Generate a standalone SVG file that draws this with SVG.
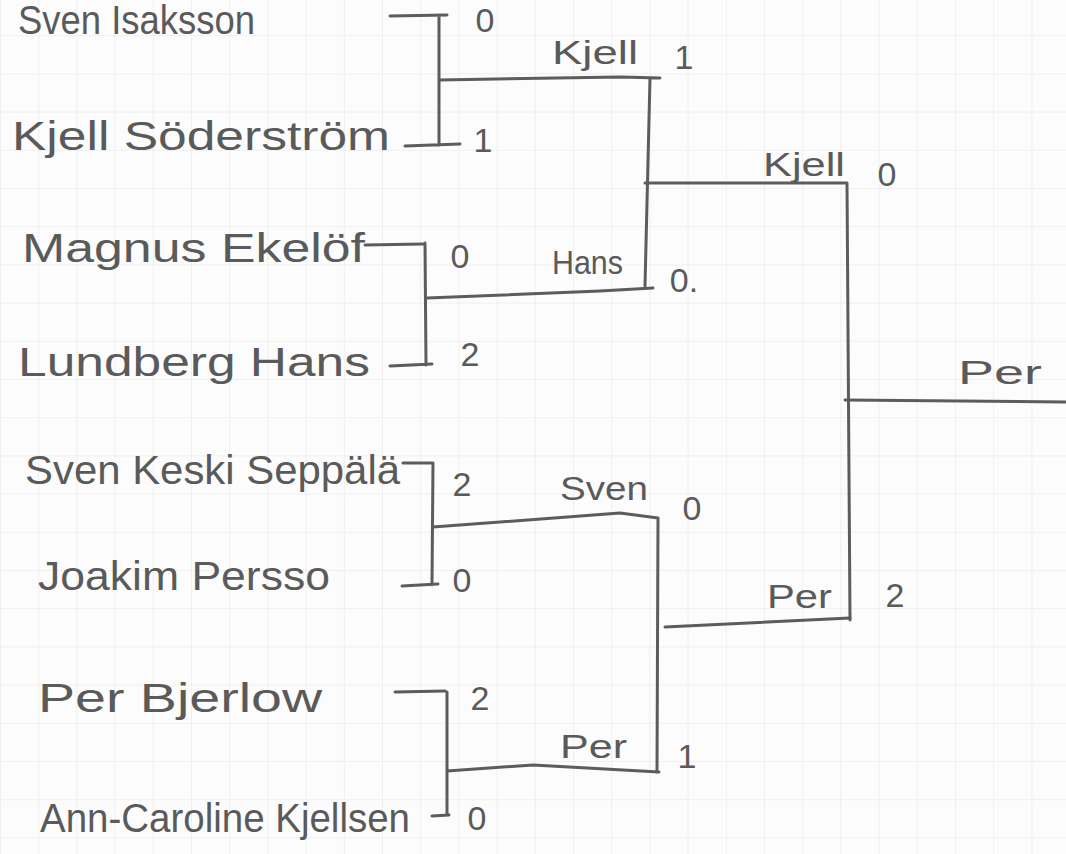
<svg xmlns="http://www.w3.org/2000/svg" width="1066" height="854" viewBox="0 0 1066 854">
<style>
.name{font-family:"Liberation Sans",Arial,sans-serif;font-size:40px;fill:#5a5a5a}
.win{font-family:"Liberation Sans",Arial,sans-serif;font-size:33px;fill:#5a5a5a}
.score{font-family:"Liberation Sans",Arial,sans-serif;font-size:34px;fill:#5a5a5a;text-anchor:middle}
.ln{fill:none;stroke:#5c5c5c;stroke-width:3;stroke-linecap:round;stroke-linejoin:round}
</style>
<defs>
<pattern id="grid" x="0" y="-3" width="38.2" height="38.2" patternUnits="userSpaceOnUse">
<path d="M38.2,0 L0,0 L0,38.2" fill="none" stroke="#e4e4e4" stroke-width="1"/>
</pattern>
</defs>
<rect width="1066" height="854" fill="#fcfcfc"/>
<rect width="1066" height="854" fill="url(#grid)"/>

<g id="connectors">
<path class="ln" d="M390,16 L447,15 M439,15 L439,145 M405,146 L460,144 M439,80 L620,77 L660,78 M650,78 L645,286"/>
<path class="ln" d="M365,245 L423,244 M425,243 L426,365 M390,366 L432,364 M427,298 L600,291 L653,288"/>
<path class="ln" d="M645,183 L847,183 M847,183 L850,620"/>
<path class="ln" d="M403,463 L433,463 M433,463 L432,585 M402,586 L438,584 M433,527 L620,513 L658,518 M658,518 L657,772"/>
<path class="ln" d="M395,692 L445,691 M447,692 L447,815 M432,816 L449,815 M447,771 L533,765 L659,772"/>
<path class="ln" d="M665,627 L850,618"/>
<path class="ln" d="M845,400 L1066,402"/>
</g>

<g id="p1"><text class="name" x="18" y="34" font-size="28" textLength="237" lengthAdjust="spacingAndGlyphs">Sven Isaksson</text><text class="score" x="485" y="32" font-size="26">0</text></g>
<g id="p2"><text class="name" x="12" y="150" textLength="378" lengthAdjust="spacingAndGlyphs">Kjell Söderström</text><text class="score" x="483" y="152">1</text></g>
<g id="p3"><text class="name" x="22" y="262" textLength="343" lengthAdjust="spacingAndGlyphs">Magnus Ekelöf</text><text class="score" x="460" y="268">0</text></g>
<g id="p4"><text class="name" x="18" y="376" textLength="352" lengthAdjust="spacingAndGlyphs">Lundberg Hans</text><text class="score" x="470" y="366">2</text></g>
<g id="p5"><text class="name" x="25" y="484" font-size="36" textLength="375" lengthAdjust="spacingAndGlyphs">Sven Keski Seppälä</text><text class="score" x="462" y="496">2</text></g>
<g id="p6"><text class="name" x="38" y="590" textLength="292" lengthAdjust="spacingAndGlyphs">Joakim Persso</text><text class="score" x="462" y="592">0</text></g>
<g id="p7"><text class="name" x="38" y="712" textLength="284" lengthAdjust="spacingAndGlyphs">Per Bjerlow</text><text class="score" x="480" y="710">2</text></g>
<g id="p8"><text class="name" x="40" y="832" font-size="36" textLength="370" lengthAdjust="spacingAndGlyphs">Ann-Caroline Kjellsen</text><text class="score" x="477" y="830">0</text></g>

<g id="qf1"><text class="win" x="552" y="64" textLength="86" lengthAdjust="spacingAndGlyphs">Kjell</text><text class="score" x="684" y="69">1</text></g>
<g id="qf2"><text class="win" x="552" y="274" textLength="71" lengthAdjust="spacingAndGlyphs">Hans</text><text class="score" x="684" y="292">0.</text></g>
<g id="qf3"><text class="win" x="560" y="500" textLength="88" lengthAdjust="spacingAndGlyphs">Sven</text><text class="score" x="692" y="520">0</text></g>
<g id="qf4"><text class="win" x="560" y="758" textLength="67" lengthAdjust="spacingAndGlyphs">Per</text><text class="score" x="687" y="768">1</text></g>
<g id="sf1"><text class="win" x="763" y="176" textLength="82" lengthAdjust="spacingAndGlyphs">Kjell</text><text class="score" x="887" y="186">0</text></g>
<g id="sf2"><text class="win" x="767" y="608" textLength="65" lengthAdjust="spacingAndGlyphs">Per</text><text class="score" x="895" y="607">2</text></g>
<g id="final"><text class="win" x="958" y="384" font-size="38" textLength="84" lengthAdjust="spacingAndGlyphs">Per</text></g>
</svg>
